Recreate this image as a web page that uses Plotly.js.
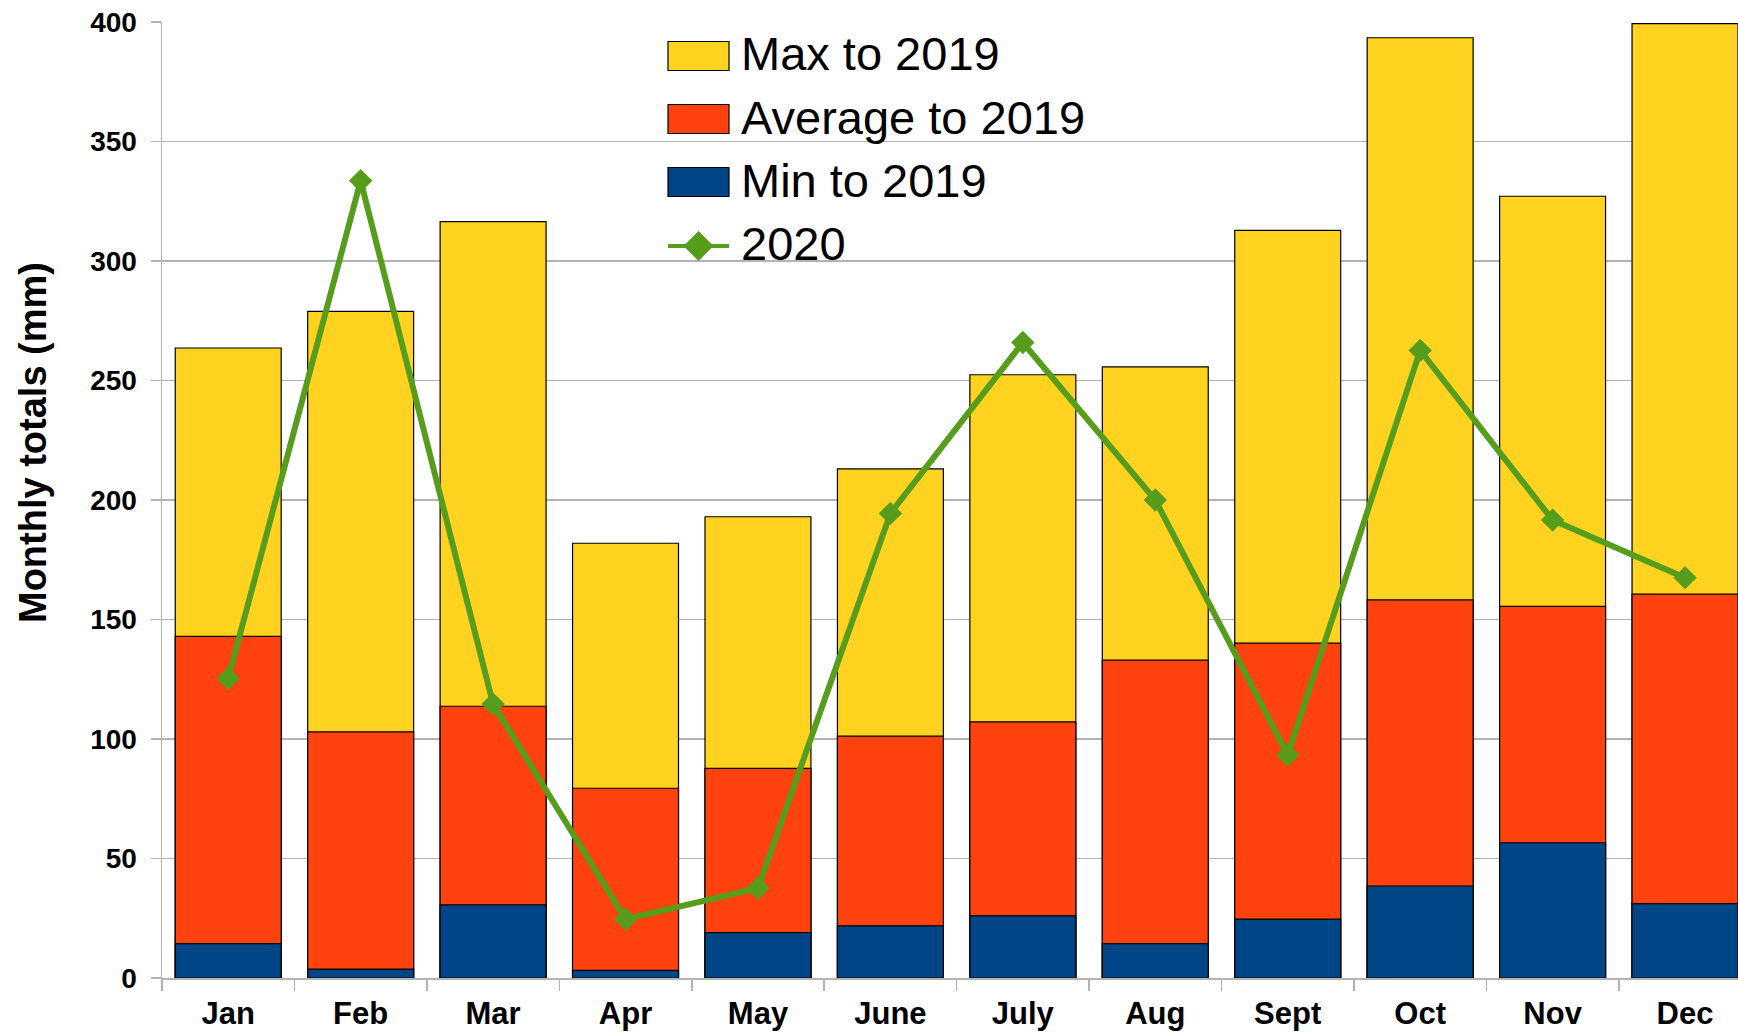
<!DOCTYPE html>
<html>
<head>
<meta charset="utf-8">
<script src="https://cdn.plot.ly/plotly-3.0.1.min.js"></script>
<style>
  html, body { margin: 0; padding: 0; background: #ffffff; }
  #chart { width: 1738px; height: 1034px; }
</style>
</head>
<body>
<div id="chart"></div>
<script>
// ---- Data ----
const months = ['Jan', 'Feb', 'Mar', 'Apr', 'May', 'June', 'July', 'Aug', 'Sept', 'Oct', 'Nov', 'Dec'];
const maxTo2019 = [263.6, 278.9, 316.5, 181.9, 193.0, 213.0, 252.4, 255.7, 312.8, 393.4, 327.1, 399.3];
const avgTo2019 = [142.9, 103.0, 113.7, 79.4, 87.7, 101.2, 107.2, 133.0, 140.1, 158.2, 155.5, 160.6];
const minTo2019 = [14.4, 3.7, 30.6, 3.2, 19.0, 21.8, 26.0, 14.4, 24.6, 38.5, 56.6, 31.1];
const rain2020 = [125.3, 333.6, 114.6, 24.6, 37.6, 194.4, 265.9, 200.0, 93.3, 262.6, 191.6, 167.5];

const seriesNames = ['Max to 2019', 'Average to 2019', 'Min to 2019', '2020'];
const yTicks = [0, 50, 100, 150, 200, 250, 300, 350, 400];
const yTitle = 'Monthly totals (mm)';

// ---- Styles ----
const colMax = '#FFD320', colAvg = '#FF420E', colMin = '#004586', colLine = '#579D1C';
const FONT = 'Liberation Sans, Arial, sans-serif';
const W = 1738, H = 1034;
const M = { l: 162, r: 0, t: 22, b: 56 };
const PW = W - M.l - M.r, PH = H - M.t - M.b;

function bar(name, vals, color) {
  return {
    type: 'bar', name: name, x: months, y: vals,
    width: 0.8,
    marker: { color: color, line: { color: '#000000', width: 1.2 }, opacity: 1 },
    showlegend: false, hoverinfo: 'x+y'
  };
}

const traces = [
  bar(seriesNames[0], maxTo2019, colMax),
  bar(seriesNames[1], avgTo2019, colAvg),
  bar(seriesNames[2], minTo2019, colMin),
  {
    type: 'scatter', mode: 'lines+markers', name: seriesNames[3],
    x: months, y: rain2020,
    line: { color: colLine, width: 6 },
    marker: { symbol: 'diamond', size: 18, color: colLine },
    showlegend: false, cliponaxis: false
  }
];

// ---- Custom legend (pixel positions converted to paper coords) ----
const px = v => (v - M.l) / PW;
const py = v => (H - M.b - v) / PH;
const legColors = [colMax, colAvg, colMin];
const rowY = [56, 119, 182, 246];
const shapes = [];
const annotations = [];
for (let i = 0; i < 3; i++) {
  shapes.push({
    type: 'rect', xref: 'paper', yref: 'paper', layer: 'above',
    x0: px(668), x1: px(729), y0: py(rowY[i] - 14.5), y1: py(rowY[i] + 14.5),
    fillcolor: legColors[i], line: { color: '#000000', width: 1.2 }
  });
}
shapes.push({
  type: 'line', xref: 'paper', yref: 'paper', layer: 'above',
  x0: px(668), x1: px(729), y0: py(rowY[3]), y1: py(rowY[3]),
  line: { color: colLine, width: 4 }
});
const dx = 15, dy = 15, cx = 698.5, cy = rowY[3];
shapes.push({
  type: 'path', xref: 'paper', yref: 'paper', layer: 'above',
  path: `M ${px(cx - dx)} ${py(cy)} L ${px(cx)} ${py(cy - dy)} L ${px(cx + dx)} ${py(cy)} L ${px(cx)} ${py(cy + dy)} Z`,
  fillcolor: colLine, line: { color: colLine, width: 0 }
});
for (let i = 0; i < 4; i++) {
  annotations.push({
    xref: 'paper', yref: 'paper', x: px(739), y: py(rowY[i] - 2),
    xanchor: 'left', yanchor: 'middle', showarrow: false,
    text: seriesNames[i],
    font: { family: FONT, size: 47, color: '#000000' }
  });
}
// y-axis title (placed as in the reference, slightly above the axis centre)
annotations.push({
  xref: 'paper', yref: 'paper', x: px(33), y: py(443),
  xanchor: 'center', yanchor: 'middle', showarrow: false,
  textangle: -90, text: yTitle,
  font: { family: FONT, size: 38, color: '#000000', weight: 'bold' }
});

const layout = {
  width: W, height: H,
  margin: M,
  paper_bgcolor: '#ffffff', plot_bgcolor: '#ffffff',
  barmode: 'overlay',
  showlegend: false,
  font: { family: FONT, color: '#000000' },
  xaxis: {
    type: 'category',
    range: [-0.5, 11.4],
    showline: true, linecolor: '#b3b3b3', linewidth: 1.5,
    ticks: 'outside', tickson: 'boundaries', ticklen: 11, tickcolor: '#b3b3b3', tickwidth: 1.5,
    showgrid: false, zeroline: false,
    tickfont: { family: FONT, size: 31, color: '#000000', weight: 'bold' },
    ticklabelstandoff: 7
  },
  yaxis: {
    range: [0, 400],
    tickvals: yTicks,
    showline: true, linecolor: '#b3b3b3', linewidth: 1.5,
    ticks: 'outside', ticklen: 10, tickcolor: '#b3b3b3', tickwidth: 1.5,
    showgrid: true, gridcolor: '#b3b3b3', gridwidth: 1.2,
    zeroline: false,
    tickfont: { family: FONT, size: 28, color: '#000000', weight: 'bold' },
    ticklabelstandoff: 8
  },
  shapes: shapes,
  annotations: annotations
};

Plotly.newPlot('chart', traces, layout, { displayModeBar: false, staticPlot: true });
</script>
</body>
</html>
